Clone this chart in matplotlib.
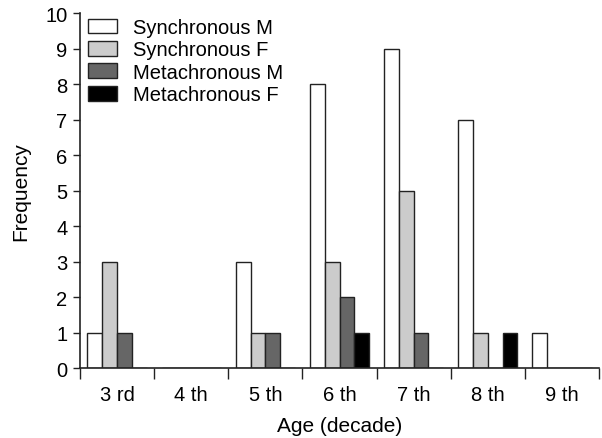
import matplotlib
matplotlib.use("Agg")
import matplotlib.pyplot as plt
import numpy as np

categories = ["3 rd", "4 th", "5 th", "6 th", "7 th", "8 th", "9 th"]
sync_m = [1, 0, 3, 8, 9, 7, 1]
sync_f = [3, 0, 1, 3, 5, 1, 0]
meta_m = [1, 0, 1, 2, 1, 0, 0]
meta_f = [0, 0, 0, 1, 0, 1, 0]
series_names = ["Synchronous M", "Synchronous F", "Metachronous M", "Metachronous F"]

plt.rcParams['font.family'] = ['Liberation Sans', 'DejaVu Sans']

fig = plt.figure(figsize=(6.02, 4.39), dpi=100)
ax = fig.add_axes([0.133, 0.159, 0.862, 0.809])

colors = ["white", "#cccccc", "#666666", "black"]
series = [sync_m, sync_f, meta_m, meta_f]
x = np.arange(len(categories)) + 0.5
w = 0.2
offsets = [-0.3, -0.1, 0.1, 0.3]
for vals, c, off, name in zip(series, colors, offsets, series_names):
    ax.bar(x + off, vals, width=w, color=c, edgecolor="#222222", linewidth=1.0, label=name)

ax.set_xlim(0, 7)
ax.set_ylim(0, 10)
ax.set_yticks(range(0, 11))
ax.set_xticks(range(0, 8))
ax.set_xticklabels([])
ax.set_xticks(x, minor=True)
ax.set_xticklabels(categories, minor=True)
ax.tick_params(axis='x', which='major', direction='out', length=8, width=1, color="#222222")
ax.tick_params(axis='x', which='minor', length=0, pad=12, labelsize=14.5)
ax.tick_params(axis='y', direction='out', length=5, width=1, labelsize=14.5, color="#222222", pad=4)
for s in ["top", "right"]:
    ax.spines[s].set_visible(False)
for s in ["left", "bottom"]:
    ax.spines[s].set_color("#222222")
    ax.spines[s].set_linewidth(1.2)

ax.set_ylabel("Frequency", fontsize=15, labelpad=11)
ax.set_xlabel("Age (decade)", fontsize=15, labelpad=9)

ax.legend(loc="upper left", bbox_to_anchor=(-0.008, 1.02), frameon=False, fontsize=14.5,
          handlelength=1.45, handleheight=0.75, handletextpad=0.8, labelspacing=0.17,
          borderaxespad=0.3, borderpad=0.3)

fig.savefig("out.png", dpi=100)
